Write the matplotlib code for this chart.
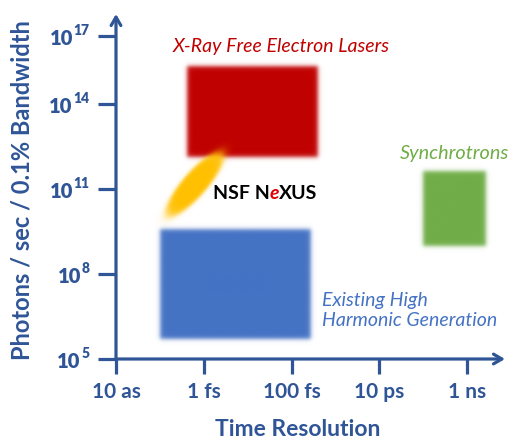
import numpy as np
import matplotlib
matplotlib.use("Agg")
import matplotlib.pyplot as plt
from matplotlib.colors import to_rgb

plt.rcParams['font.family'] = ['Lato', 'DejaVu Sans']

AXIS_BLUE = "#2F5597"

# axes in log10 units: time in seconds, photons/sec/0.1%BW
x_tick_pos = [-17, -15, -13, -11, -9]
x_tick_labels = ["10 as", "1 fs", "100 fs", "10 ps", "1 ns"]
y_tick_pos = [5, 8, 11, 14, 16.4]
y_tick_exps = ["5", "8", "11", "14", "17"]

# source regions: (x0, x1, y0, y1) in log10 units
sources = ["X-Ray Free Electron Lasers", "Synchrotrons", "Existing High\nHarmonic Generation"]
src_x0 = [-15.38, -10.0, -16.0]
src_x1 = [-12.4, -8.57, -12.58]
src_y0 = [12.14, 8.99, 5.71]
src_y1 = [15.35, 11.64, 9.59]
src_colors = ["#C00000", "#70AD47", "#4472C4"]

# NSF NeXUS ellipse: center (log10 units), semi axes in px, angle deg
nexus_center = (-15.2, 11.2)
nexus_axes_px = (41.0, 12.0)
nexus_angle = 49.0

fig = plt.figure(figsize=(5.09, 4.39), dpi=100)
W, H = 509, 439
ax = fig.add_axes([116 / W, (439 - 360) / H, (505 - 116) / W, (360 - 15) / H])
xlim = (-17, -8.14)
ylim = (5, 17.19)
px_x = (505 - 116) / (xlim[1] - xlim[0])
px_y = (360 - 15) / (ylim[1] - ylim[0])


def soft_rect(x0, x1, y0, y1, color, blur=2.5):
    sx, sy = blur / px_x, blur / px_y
    xs = np.linspace(x0 - 4 * sx, x1 + 4 * sx, 400)
    ys = np.linspace(y0 - 4 * sy, y1 + 4 * sy, 400)
    axx = 0.5 * (np.tanh((xs - x0) / sx) - np.tanh((xs - x1) / sx))
    ayy = 0.5 * (np.tanh((ys - y0) / sy) - np.tanh((ys - y1) / sy))
    img = np.zeros((len(ys), len(xs), 4))
    img[..., :3] = to_rgb(color)
    img[..., 3] = np.outer(ayy, axx)
    ax.imshow(img, extent=(xs[0], xs[-1], ys[0], ys[-1]), origin='lower',
              aspect='auto', interpolation='bilinear', zorder=2)


for x0, x1, y0, y1, c in zip(src_x0, src_x1, src_y0, src_y1, src_colors):
    soft_rect(x0, x1, y0, y1, c)

# blurred ellipse
cx, cy = nexus_center
a, b = nexus_axes_px
xs = np.linspace(cx - 60 / px_x, cx + 60 / px_x, 400)
ys = np.linspace(cy - 60 / px_y, cy + 60 / px_y, 400)
X, Y = np.meshgrid(xs, ys)
dx, dy = (X - cx) * px_x, (Y - cy) * px_y
t = np.deg2rad(nexus_angle)
u = dx * np.cos(t) + dy * np.sin(t)
v = -dx * np.sin(t) + dy * np.cos(t)
r = np.sqrt((u / a) ** 2 + (v / b) ** 2)
img = np.zeros(X.shape + (4,))
img[..., :3] = to_rgb("#FFC000")
img[..., 3] = 0.5 * (1 - np.tanh((r - 1) * b / 2.0))
ax.imshow(img, extent=(xs[0], xs[-1], ys[0], ys[-1]), origin='lower',
          aspect='auto', interpolation='bilinear', zorder=3)

ax.set_xlim(xlim)
ax.set_ylim(ylim)
for s in ax.spines.values():
    s.set_visible(False)
ax.patch.set_alpha(0)

# axis arrows
arrow = dict(arrowstyle='->,head_length=0.6,head_width=0.35', color=AXIS_BLUE,
             lw=2.3, shrinkA=0, shrinkB=0)
ax.annotate('', xy=(xlim[1], ylim[0]), xytext=(xlim[0], ylim[0]),
            arrowprops=arrow, annotation_clip=False, zorder=5)
ax.annotate('', xy=(xlim[0], ylim[1]), xytext=(xlim[0], ylim[0]),
            arrowprops=arrow, annotation_clip=False, zorder=5)

ax.set_xticks(x_tick_pos)
ax.set_xticklabels(x_tick_labels, fontsize=15, fontweight='bold', color=AXIS_BLUE)
ax.set_yticks(y_tick_pos)
ax.set_yticklabels([])
ax.tick_params(axis='x', direction='out', length=11, width=2.3, color=AXIS_BLUE, pad=5)
ax.tick_params(axis='y', direction='out', length=13, width=2.3, color=AXIS_BLUE)

# y tick labels: bold "10" with superscript exponent, right aligned
for yp, ex in zip(y_tick_pos, y_tick_exps):
    sup = ax.annotate(ex, xy=(0, yp), xycoords=('axes fraction', 'data'),
                      xytext=(-19, 0), textcoords='offset points', ha='right',
                      va='bottom', fontsize=10, fontweight='heavy', color=AXIS_BLUE,
                      annotation_clip=False)
    ax.annotate("10", xy=(0, 0.05), xycoords=sup, xytext=(-0.5, -1.5),
                textcoords='offset points', ha='right', va='center', fontsize=14.5,
                fontweight='heavy', color=AXIS_BLUE, annotation_clip=False)

fig.text(298 / W, 1 - 436 / H, "Time Resolution", fontsize=16.5, fontweight='bold',
         color=AXIS_BLUE, ha='center', va='baseline')
fig.text(22 / W, 1 - 190 / H, "Photons / sec / 0.1% Bandwidth", fontsize=17,
         fontweight='bold', color=AXIS_BLUE, ha='center', va='center', rotation=90)

# source labels
ax.text(-15.70, 16.06, sources[0], fontsize=14, style='italic', color=src_colors[0],
        ha='left', va='center')
ax.text(-10.53, 12.31, sources[1], fontsize=14.3, style='italic', color=src_colors[1],
        ha='left', va='center')
ax.text(-12.31, 6.75, sources[2], fontsize=14, style='italic', color=src_colors[2],
        ha='left', va='center', linespacing=1.25)

t1 = ax.text(-14.79, 10.88, "NSF N", fontsize=14, fontweight='bold', color='black',
             ha='left', va='center', zorder=6)
t2 = ax.annotate("e", xy=(1, 0), xycoords=t1, va='bottom', ha='left', fontsize=14,
                 fontweight='bold', style='italic', color='#E00000', zorder=6)
ax.annotate("XUS", xy=(1, 0), xycoords=t2, va='bottom', ha='left', fontsize=14,
            fontweight='bold', color='black', zorder=6)

fig.savefig("out.png", dpi=100)
